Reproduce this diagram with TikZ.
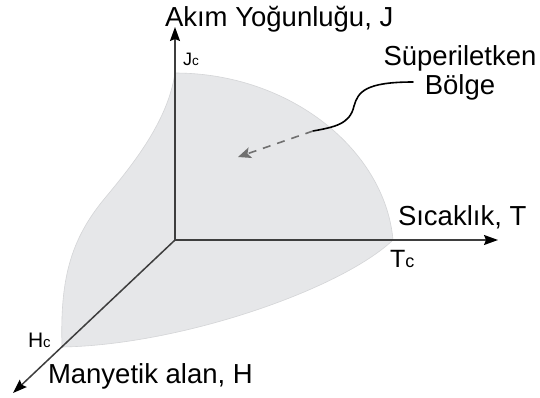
\documentclass[tikz,border=0pt]{standalone}
\usepackage{fontspec}
\setmainfont{Liberation Sans}
\usepackage{xcolor}
\usetikzlibrary{positioning,arrows.meta}

\definecolor{regionfill}{RGB}{230,231,233}
\definecolor{regionedge}{RGB}{212,213,215}
\definecolor{axisgray}{RGB}{62,62,62}
\definecolor{hintgray}{RGB}{112,112,112}

% critical value label: letter plus small c on the baseline
\newcommand{\critlbl}[3]{{\fontsize{#1}{#1}\selectfont #2{\fontsize{#3}{#3}\selectfont c}}}

\begin{document}
\begin{tikzpicture}[
    x=1pt, y=-1pt,
    every node/.style={inner sep=0pt, outer sep=0pt},
    lbl/.style={anchor=base west, font=\fontsize{27.5}{30}\selectfont},
    crit/.style={anchor=base west},
    region/.style={fill=regionfill, draw=regionedge, line width=0.6pt},
    axis/.style={draw=axisgray, line width=1.5pt,
                 -{Stealth[length=14pt, width=10pt, inset=2pt, color=black]}},
    pointer/.style={draw=black, line width=1.6pt, line cap=round},
    hintarr/.style={draw=hintgray, line width=1.6pt, dash pattern=on 8pt off 7pt,
                    -{Stealth[length=13pt, width=11pt, inset=3pt]}},
]

% Frame
\path[fill=white] (0,0) rectangle (540,397);
\useasboundingbox (0,0) rectangle (540,397);

% Axis points
\coordinate (origin) at (175,240);
\coordinate (jtip)   at (175,27);
\coordinate (ttip)   at (498,240);
\coordinate (htip)   at (13,393);
\coordinate (jmax)   at (175,73);
\coordinate (tmax)   at (393,240);
\coordinate (hmax)   at (62,347);

% Superconducting region
\path[region] (jmax) .. controls (290,73) and (385,150) .. (tmax)
    .. controls (340,290) and (180,345) .. (hmax)
    .. controls (60,280) and (70,240) .. (105,198)
    .. controls (135,162) and (168,120) .. (jmax) -- cycle;

% Axes
\draw[axis] (origin) -- (jtip);
\draw[axis] (origin) -- (ttip);
\draw[axis] (origin) -- (htip);

% Axis labels
\node[lbl] (jlabel) at (165,26)  {Akım Yoğunluğu, J};
\node[lbl] (tlabel) at (398,225) {Sıcaklık, T};
\node[lbl] (hlabel) at (48,383)  {Manyetik alan, H};

% Critical values
\node[crit] (jc) at (183,65)  {\critlbl{18}{J}{13.5}};
\node[crit] (tc) at (390,267) {\critlbl{25}{T}{18}};
\node[crit] (hc) at (28,347)  {\critlbl{21}{H}{15}};

% Region label and pointer
\node[lbl, anchor=base] (sup) at (460,65) {Süperiletken};
\node[lbl, anchor=north, below=4pt of sup] (bolge) {Bölge};

\coordinate (hint)   at (413,82);
\coordinate (bend)   at (313,131);
\coordinate (target) at (238,157);
\draw[pointer] (hint) .. controls (365,82) and (358,92) .. (354,106)
    .. controls (350,124) and (335,127) .. (bend);
\draw[hintarr] (bend) -- (target);

\end{tikzpicture}
\end{document}
